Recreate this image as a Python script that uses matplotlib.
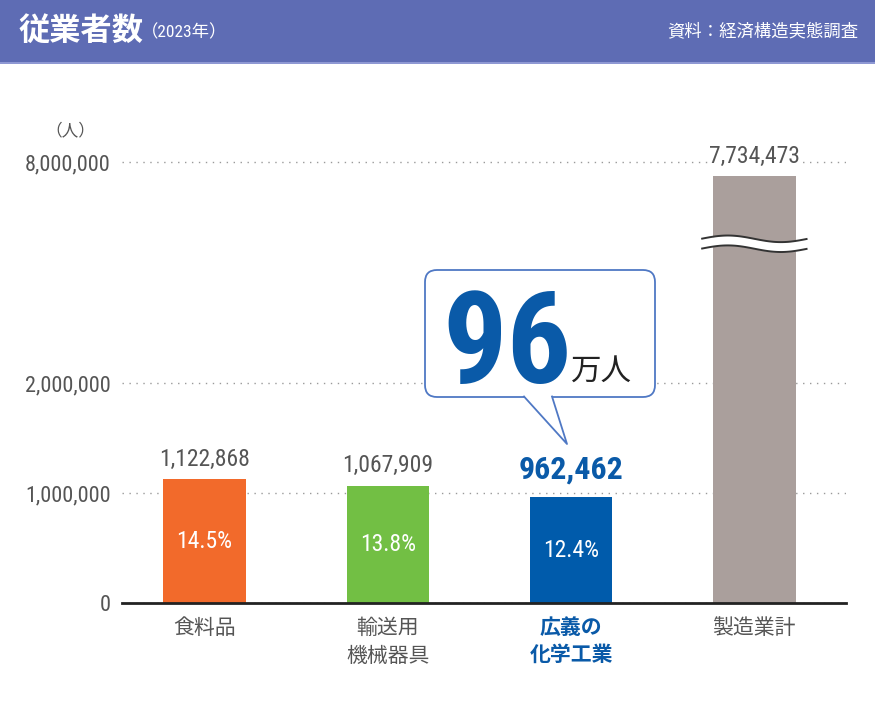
import numpy as np
import matplotlib
matplotlib.use("Agg")
import matplotlib.pyplot as plt
from matplotlib import font_manager as fm
from matplotlib.patches import FancyBboxPatch, Polygon, Rectangle
from matplotlib.transforms import Affine2D

plt.rcParams['font.family'] = ['Roboto', 'Noto Sans CJK JP', 'DejaVu Sans']

# data
categories = ['食料品', '輸送用\n機械器具', '広義の\n化学工業', '製造業計']
employees = [1122868, 1067909, 962462, 7734473]
shares = ['14.5%', '13.8%', '12.4%', None]
bar_colors = ['#f26a2b', '#72bf44', '#005bab', '#aa9f9c']
yticks = [0, 1000000, 2000000, 8000000]
ytick_labels = ['0', '1,000,000', '2,000,000', '8,000,000']
highlight = 2
callout_big = '96'
callout_unit = '万人'

GRAY = '#555555'
BLUE = '#0a5aa8'


def pick(cands, default):
    names = {f.name for f in fm.fontManager.ttflist}
    for c in cands:
        if c in names:
            return c
    return default


COND_NAME = pick(['Roboto Condensed', 'Archivo Narrow', 'PT Sans Narrow',
                  'Liberation Sans Narrow', 'Barlow Condensed', 'Oswald'], 'Roboto')
COND = [COND_NAME, 'Noto Sans CJK JP', 'DejaVu Sans']
CJK = ['Noto Sans CJK JP', 'DejaVu Sans']

W, H = 875, 723
fig = plt.figure(figsize=(W / 100, H / 100), dpi=100)
fig.patch.set_facecolor('white')
px = Affine2D().scale(1 / W, -1 / H).translate(0, 1) + fig.transFigure

# broken y scale (piecewise linear)
knot_v = np.array([-1e6, 0, 2e6, 6e6, 8e6, 1e8])
knot_p = np.array([-1.0, 0, 2.0, 3.05, 4.009, 4.009 + 92 * 0.48])


def fwd(v):
    return np.interp(v, knot_v, knot_p)


def inv(p):
    return np.interp(p, knot_p, knot_v)


unit_px = 110
ytop = 8.25e6
ax_h = fwd(ytop) * unit_px / H
ax = fig.add_axes([122 / W, 120 / H, 724 / W, ax_h])
ax.set_yscale('function', functions=(fwd, inv))
ax.set_ylim(0, ytop)
ax.set_xlim(-0.45, 3.5)

x = np.arange(len(categories))
bw = 0.45
bars = ax.bar(x, employees, width=bw, color=bar_colors, zorder=3)

ax.set_yticks(yticks)
ax.set_yticklabels(ytick_labels, family=COND, fontsize=16, color=GRAY)
ax.yaxis.set_minor_locator(matplotlib.ticker.NullLocator())
ax.tick_params(axis='y', length=0, pad=8)
ax.yaxis.grid(True, color='#9a9a9a', linestyle=(0, (1, 4)), linewidth=1, zorder=0)

ax.set_xticks(x)
ax.set_xticklabels(categories, family=CJK, fontsize=15, color=GRAY, linespacing=1.35)
ax.tick_params(axis='x', length=0, pad=10)
hl = ax.get_xticklabels()[highlight]
hl.set_color(BLUE)
hl.set_fontweight('bold')

for s in ['left', 'top', 'right']:
    ax.spines[s].set_visible(False)
ax.spines['bottom'].set_color('#222222')
ax.spines['bottom'].set_linewidth(2)
ax.spines['bottom'].set_zorder(4)

# value labels
for i, v in enumerate(employees):
    if i == highlight:
        ax.annotate(f'{v:,}', (x[i], v), xytext=(0, 9), textcoords='offset points',
                    ha='center', va='bottom', fontsize=23, fontweight='bold',
                    color=BLUE, family=COND)
    else:
        t = ax.annotate(f'{v:,}', (x[i], v), xytext=(0, 6), textcoords='offset points',
                        ha='center', va='bottom', fontsize=17, color=GRAY,
                        family=COND, zorder=5)
        if v > yticks[2]:
            t.set_bbox(dict(facecolor='white', edgecolor='none', pad=1))

# percentage labels inside bars
for i, s in enumerate(shares):
    if s is None:
        continue
    ax.text(x[i], inv(fwd(employees[i]) / 2), s, ha='center', va='center',
            fontsize=17, color='white', family=COND, zorder=5)

# break mark on the total bar
brk = 6.45e6
i_tot = len(employees) - 1
t = np.linspace(0, 1, 100)
wx = x[i_tot] - 0.29 + 0.58 * t
wave = 0.03 * np.sin(2 * np.pi * t)
p_hi = fwd(brk) + 0.045 + wave
p_lo = fwd(brk) - 0.045 + wave
ax.fill_between(wx, inv(p_lo), inv(p_hi), color='white', zorder=4, linewidth=0)
ax.plot(wx, inv(p_hi), color='#333333', lw=1.4, zorder=5, solid_capstyle='butt')
ax.plot(wx, inv(p_lo), color='#333333', lw=1.4, zorder=5, solid_capstyle='butt')

# unit label
fig.text(70 / W, 1 - 131 / H, '（人）', family=CJK, fontsize=12, color=GRAY,
         ha='center', va='center')

# header band
fig.patches.append(Rectangle((0, 0), W, 62, transform=px, facecolor='#5e6cb4',
                             edgecolor='none', zorder=1))
fig.patches.append(Rectangle((0, 62), W, 2, transform=px, facecolor='#8e98d3',
                             edgecolor='none', zorder=1))
fig.text(19, 31, '従業者数', transform=px, family=CJK, fontsize=22.5, fontweight='bold',
         color='white', ha='left', va='center', zorder=2)
fig.text(141, 32, '（2023年）', transform=px, family=COND, fontsize=12.5,
         color='white', ha='left', va='center', zorder=2)
fig.text(858, 31, '資料：経済構造実態調査', transform=px, family=CJK, fontsize=12.5,
         color='white', ha='right', va='center', zorder=2)

# callout bubble
edge = '#4f78c4'
box = FancyBboxPatch((425, 270), 230, 127, boxstyle='round,pad=0,rounding_size=12',
                     transform=px, facecolor='white', edgecolor=edge, lw=1.3, zorder=6)
fig.patches.append(box)
tail = Polygon([(524, 396), (567, 444), (552, 396)], closed=True, transform=px,
               facecolor='white', edgecolor='none', zorder=7)
fig.patches.append(tail)
fig.lines.append(plt.Line2D([524, 567, 552], [396.5, 444, 396.5], transform=px,
                            color=edge, lw=1.3, zorder=8))
fig.text(507, 383, callout_big, transform=px, family=COND,
         fontsize=92, fontweight='bold', color=BLUE, ha='center', va='baseline', zorder=9)
fig.text(571, 380, callout_unit, transform=px, family=CJK, fontsize=22,
         color='#222222', ha='left', va='baseline', zorder=9)

fig.savefig('out.png', dpi=100, facecolor='white')
